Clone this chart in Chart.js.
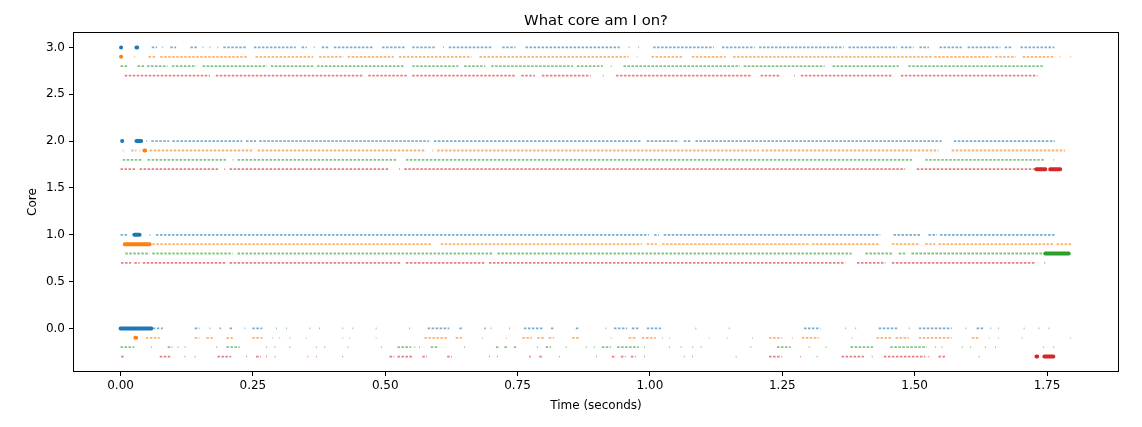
<!DOCTYPE html>
<html>
<head>
<meta charset="utf-8">
<script src="https://cdn.jsdelivr.net/npm/chart.js@4.4.0/dist/chart.umd.min.js"></script>
<style>
  html, body { margin: 0; padding: 0; background: #fff; }
  #wrap { width: 1142px; height: 427px; }
</style>
</head>
<body>
<div id="wrap"><canvas id="myChart" width="1142" height="427"></canvas></div>
<script>
// runs of samples, in seconds: [start, end] or [t] for a lone dot
// thread colours follow matplotlib order; each thread is drawn a bit below its core
const threadNames = ['thread 0', 'thread 1', 'thread 2', 'thread 3'];
const threadColors = ['31,119,180', '255,127,14', '44,160,44', '214,39,40'];
const threadOffsets = [0, 0.1, 0.2, 0.3];
const xTicks = [0, 0.25, 0.5, 0.75, 1.0, 1.25, 1.5, 1.75];
const yTicks = [0, 0.5, 1.0, 1.5, 2.0, 2.5, 3.0];

const blue3 = [[0.059,0.069],[0.079],[0.094,0.105],[0.132,0.147],[0.155],[0.168],[0.183],[0.194,0.238],[0.252,0.331],[0.342,0.352],[0.365],[0.380,0.393],[0.403,0.476],[0.494,0.537],[0.551,0.595],[0.609],[0.620,0.703],[0.721,0.746],[0.765,0.943],[0.960],[0.978],[1.006,1.121],[1.136,1.198],[1.206,1.366],[1.375,1.467],[1.474,1.498],[1.509,1.527],[1.547,1.589],[1.600,1.662],[1.670,1.683],[1.700,1.764]];
const blue2 = [[0.048],[0.058,0.092],[0.098,0.230],[0.237,0.256],[0.262,0.583],[0.592,0.985],[0.994,1.055],[1.064,1.077],[1.086,1.551],[1.574,1.765]];
const blue1 = [[0.000,0.014],[0.055],[0.067,0.998],[1.008,1.017],[1.026,1.435],[1.460,1.511],[1.526,1.542],[1.548,1.765]];
const blue0 = [[0.061,0.080],[0.140,0.149],[0.168],[0.187,0.190],[0.206,0.212],[0.234],[0.249,0.268],[0.294],[0.313],[0.357],[0.375],[0.419],[0.438],[0.482],[0.545],[0.580,0.621],[0.640,0.645],[0.687,0.690],[0.699],[0.734],[0.762,0.800],[0.813,0.819],[0.860,0.866],[0.916],[0.932,0.957],[0.966,0.979],[0.994,1.021],[1.086],[1.149],[1.291,1.322],[1.369],[1.388],[1.432,1.470],[1.489],[1.508,1.570],[1.596],[1.617,1.630],[1.643],[1.658],[1.706],[1.734],[1.753]];

const orange3 = [[0.026],[0.053,0.068],[0.075,0.241],[0.255,0.364],[0.375,0.421],[0.429,0.516],[0.526,0.663],[0.678,0.960],[0.975],[1.003,1.062],[1.079,1.143],[1.157,1.533],[1.537,1.645],[1.652,1.691],[1.704,1.764],[1.774],[1.794]];
const orange2 = [[0.004],[0.020,0.030],[0.036],[0.055,0.249],[0.259,0.577],[0.589],[0.598,1.206],[1.211,1.545],[1.570,1.784]];
const orange1 = [[0.060,0.589],[0.605,0.985],[0.994,1.013],[1.023,1.300],[1.306,1.432],[1.457,1.508],[1.520,1.539],[1.545,1.762],[1.768,1.796]];
const orange0 = [[0.048,0.074],[0.140,0.149],[0.162,0.174],[0.200,0.212],[0.249,0.268],[0.287],[0.300],[0.319],[0.350],[0.419],[0.432],[0.482],[0.574,0.617],[0.633,0.645],[0.683],[0.728],[0.759,0.777],[0.787,0.800],[0.809,0.819],[0.853,0.866],[0.926],[0.960,0.975],[0.985,1.011],[1.023],[1.036],[1.111],[1.145],[1.193],[1.225,1.249],[1.268],[1.287,1.319],[1.381],[1.428,1.457],[1.464,1.489],[1.508,1.570],[1.608,1.621],[1.640],[1.658],[1.702],[1.794]];

const green3 = [[0.000,0.013],[0.032,0.046],[0.050,0.089],[0.097,0.143],[0.155,0.277],[0.284,0.364],[0.371,0.537],[0.551,0.638],[0.649,0.689],[0.700,0.855],[0.862,0.911],[0.926],[0.950,1.170],[1.177,1.330],[1.345,1.470],[1.488,1.743]];
const green2 = [[0.004,0.042],[0.051,0.202],[0.212],[0.221,0.521],[0.539,1.495],[1.520,1.746],[1.762]];
const green1 = [[0.009,0.055],[0.060,0.212],[0.221,0.702],[0.712,1.381],[1.407,1.457],[1.470,1.482],[1.494,1.747]];
const green0 = [[0.000,0.026],[0.058],[0.089,0.098],[0.108],[0.121],[0.181],[0.200,0.225],[0.275],[0.291],[0.319],[0.369],[0.385],[0.429],[0.492],[0.523,0.549],[0.555],[0.564],[0.586,0.598],[0.649],[0.709,0.715],[0.725,0.730],[0.743,0.747],[0.787],[0.803,0.813],[0.841],[0.879],[0.894],[0.909,0.926],[0.938,0.979],[0.989],[1.036],[1.058],[1.080],[1.096],[1.190],[1.240,1.266],[1.300],[1.332],[1.379,1.423],[1.454,1.523],[1.539],[1.551],[1.589],[1.605],[1.633],[1.652],[1.743],[1.762]];

const red3 = [[0.008,0.169],[0.180,0.458],[0.468,0.541],[0.551,0.746],[0.757,0.783],[0.796,0.888],[0.911],[0.936,1.190],[1.209,1.247],[1.272],[1.285,1.457],[1.474,1.732]];
const red2 = [[0.000,0.030],[0.036,0.187],[0.196],[0.206,0.508],[0.526],[0.536,1.482],[1.504,1.728]];
const red1 = [[0.001,0.020],[0.026,0.036],[0.042,0.200],[0.206,0.530],[0.539,0.687],[0.696,1.369],[1.391,1.445],[1.457,1.728],[1.745]];
const red0 = [[0.001,0.008],[0.074,0.096],[0.121],[0.140],[0.183,0.209],[0.237],[0.256,0.265],[0.275],[0.291],[0.353],[0.369],[0.419],[0.508,0.517],[0.523,0.551],[0.570,0.579],[0.617,0.626],[0.696],[0.711],[0.772,0.775],[0.791,0.796],[0.828],[0.898],[0.928,0.936],[0.945,0.954],[0.964,0.973],[0.989],[1.064],[1.080],[1.162],[1.225,1.249],[1.284],[1.315],[1.362,1.404],[1.419],[1.442,1.520],[1.526],[1.545,1.558],[1.621]];

// spots where samples pile up into a fat blob: [core, start, end] or [core, t]
const bigBlue = [[3,0.001],[3,0.030],[2,0.003],[2,0.030,0.039],[1,0.026,0.036],[0,0.000,0.058]];
const bigOrange = [[3,0.001],[2,0.045],[1,0.008,0.055],[0,0.028]];
const bigGreen = [[1,1.747,1.791]];
const bigRed = [[2,1.730,1.747],[2,1.756,1.775],[0,1.730],[0,1.745,1.762]];

const threadRuns = [
  [[3, blue3], [2, blue2], [1, blue1], [0, blue0]],
  [[3, orange3], [2, orange2], [1, orange1], [0, orange0]],
  [[3, green3], [2, green2], [1, green1], [0, green0]],
  [[3, red3], [2, red2], [1, red1], [0, red0]]
];
const threadBig = [bigBlue, bigOrange, bigGreen, bigRed];

const DOT = 0.0015; // length given to a lone dot so it gets stroked

function runPoints(runsByCore, offset) {
  const pts = [];
  runsByCore.forEach(([core, runs]) => {
    const y = core - offset;
    runs.forEach(r => {
      const b = r.length > 1 ? r[1] : r[0] + DOT;
      pts.push({x: r[0], y: y}, {x: b, y: y}, {x: b, y: null});
    });
  });
  return pts;
}

function bigPoints(list, offset) {
  const pts = [];
  list.forEach(r => {
    const y = r[0] - offset;
    const b = r.length > 2 ? r[2] : r[1] + DOT;
    pts.push({x: r[1], y: y}, {x: b, y: y}, {x: b, y: null});
  });
  return pts;
}

const datasets = [];
threadNames.forEach((name, i) => {
  datasets.push({
    label: name,
    data: runPoints(threadRuns[i], threadOffsets[i]),
    borderColor: 'rgba(' + threadColors[i] + ',0.6)',
    borderWidth: 1.8,
    borderDash: [2.5, 1.5],
    pointRadius: 0,
    spanGaps: false
  });
  datasets.push({
    label: name + ' (dense)',
    data: bigPoints(threadBig[i], threadOffsets[i]),
    borderColor: 'rgb(' + threadColors[i] + ')',
    borderWidth: 4,
    borderCapStyle: 'round',
    pointRadius: 0,
    spanGaps: false
  });
});

const FONT = '"DejaVu Sans", sans-serif';

const frameAndLabels = {
  id: 'frameAndLabels',
  afterDraw(chart) {
    const {ctx, chartArea: a} = chart;
    ctx.save();
    ctx.strokeStyle = '#000';
    ctx.lineWidth = 1;
    ctx.strokeRect(Math.round(a.left) + 0.5, Math.round(a.top) + 0.5,
      Math.round(a.right - a.left) - 1, Math.round(a.bottom - a.top) - 1);
    ctx.fillStyle = '#000';
    ctx.textAlign = 'center';
    ctx.textBaseline = 'alphabetic';
    const cx = (a.left + a.right) / 2;
    ctx.font = '14.8px ' + FONT;
    ctx.fillText('What core am I on?', cx, 25);
    ctx.font = '12px ' + FONT;
    ctx.fillText('Time (seconds)', cx, 409);
    ctx.textBaseline = 'middle';
    ctx.translate(33, (a.top + a.bottom) / 2);
    ctx.rotate(-Math.PI / 2);
    ctx.fillText('Core', 0, 0);
    ctx.restore();
  }
};

new Chart(document.getElementById('myChart'), {
  type: 'line',
  data: { datasets: datasets },
  plugins: [frameAndLabels],
  options: {
    responsive: false,
    animation: false,
    devicePixelRatio: 1,
    layout: { padding: { left: 0, right: 23, top: 32, bottom: 0 } },
    plugins: { legend: { display: false }, tooltip: { enabled: false } },
    scales: {
      x: {
        type: 'linear',
        min: -0.0898,
        max: 1.886,
        afterBuildTicks: s => { s.ticks = xTicks.map(v => ({value: v})); },
        afterFit: s => { s.height = 55; },
        grid: { drawOnChartArea: false, drawTicks: true, tickLength: 4, color: '#000' },
        border: { display: false },
        ticks: { color: '#000', padding: 3, maxRotation: 0, font: { family: FONT, size: 12 },
          callback: v => v.toFixed(2) }
      },
      y: {
        type: 'linear',
        min: -0.465,
        max: 3.165,
        afterBuildTicks: s => { s.ticks = yTicks.map(v => ({value: v})); },
        afterFit: s => { s.width = 73; },
        grid: { drawOnChartArea: false, drawTicks: true, tickLength: 4, color: '#000' },
        border: { display: false },
        ticks: { color: '#000', padding: 4, font: { family: FONT, size: 12 },
          callback: v => v.toFixed(1) }
      }
    }
  }
});
</script>
</body>
</html>
